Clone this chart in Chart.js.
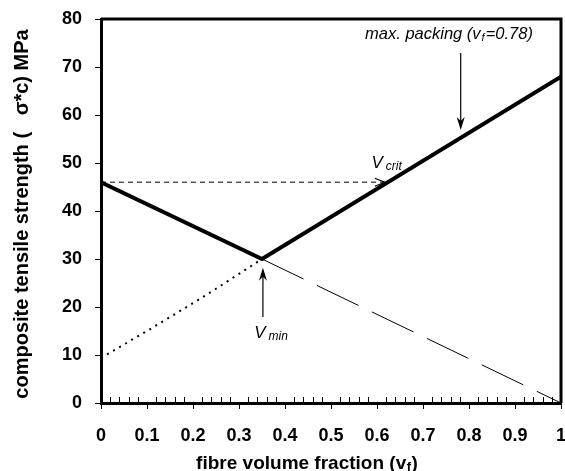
<!DOCTYPE html>
<html>
<head>
<meta charset="utf-8">
<script src="https://cdn.jsdelivr.net/npm/chart.js@4/dist/chart.umd.min.js"></script>
<style>
  html, body { margin: 0; padding: 0; background: #fff; }
  canvas { display: block; }
</style>
</head>
<body>
<canvas id="chart" width="565" height="471"></canvas>
<script>
// composite strength vs fibre volume fraction
const strengthX = [0, 0.35, 1];
const strengthY = [46, 30, 68];

const matrixX = [0.35, 1];
const matrixY = [30, 0];

const fibreX = [0, 0.05, 0.1, 0.15, 0.2, 0.25, 0.3, 0.35];
const fibreY = [9.4, 12.2, 15, 17.9, 20.8, 23.8, 26.9, 30];

const critX = [0, 0.617];
const critY = [46, 46];

// annotation anchors (data units)
const vminArrow = [0.352, 17.9, 0.352, 28.2];
const packArrow = [0.782, 72.9, 0.782, 56.9];
const vminLabel = [0.333, 13.5];
const vcritLabel = [0.588, 49];
const packLabel = [0.574, 75.8];

const FONT = '"Liberation Sans", Arial, sans-serif';

function pts(xs, ys) {
    return xs.map((x, i) => ({ x: x, y: ys[i] }));
}

// frame, minor ticks, arrows and labels
const decor = {
    id: 'decor',
    afterDraw(chart) {
        const ctx = chart.ctx;
        const xs = chart.scales.x;
        const ys = chart.scales.y;
        const a = chart.chartArea;
        const px = v => xs.getPixelForValue(v);
        const py = v => ys.getPixelForValue(v);

        ctx.save();
        ctx.strokeStyle = '#000';
        ctx.fillStyle = '#000';

        // top and right of the frame
        ctx.lineWidth = 3;
        ctx.beginPath();
        ctx.moveTo(a.left, a.top);
        ctx.lineTo(a.right, a.top);
        ctx.lineTo(a.right, a.bottom);
        ctx.stroke();

        // minor ticks pointing inwards
        ctx.lineWidth = 1;
        ctx.beginPath();
        for (let i = 1; i < 50; i++) {
            if (i % 5 === 0) continue;
            const x = Math.round(px(i / 50)) + 0.5;
            ctx.moveTo(x, a.bottom);
            ctx.lineTo(x, a.bottom - 6);
        }
        ctx.stroke();

        // vertical arrows
        function arrowUpDown(v) {
            const x = px(v[0]), y0 = py(v[1]), y1 = py(v[3]);
            const dir = y1 < y0 ? -1 : 1;
            ctx.lineWidth = 1.2;
            ctx.beginPath();
            ctx.moveTo(x, y0);
            ctx.lineTo(x, y1 - dir * 6);
            ctx.stroke();
            ctx.beginPath();
            ctx.moveTo(x, y1);
            ctx.lineTo(x - 4, y1 - dir * 13);
            ctx.lineTo(x, y1 - dir * 9);
            ctx.lineTo(x + 4, y1 - dir * 13);
            ctx.closePath();
            ctx.fill();
        }
        arrowUpDown(vminArrow);
        arrowUpDown(packArrow);

        // head of the V crit arrow
        const hx = px(critX[1]), hy = py(critY[1]);
        ctx.lineWidth = 1.2;
        ctx.beginPath();
        ctx.moveTo(hx - 10, hy - 4);
        ctx.lineTo(hx, hy);
        ctx.lineTo(hx - 10, hy + 4);
        ctx.stroke();

        // labels
        ctx.textBaseline = 'alphabetic';
        ctx.textAlign = 'left';
        function vLabel(pos, sub) {
            let x = px(pos[0]), y = py(pos[1]);
            ctx.font = 'italic 17px ' + FONT;
            ctx.fillText('V', x, y);
            x += ctx.measureText('V').width + 3;
            ctx.font = 'italic 12px ' + FONT;
            ctx.fillText(sub, x, y + 2);
        }
        vLabel(vminLabel, 'min');
        vLabel(vcritLabel, 'crit');

        let x = px(packLabel[0]);
        const y = py(packLabel[1]);
        ctx.font = 'italic 16.5px ' + FONT;
        ctx.fillText('max. packing (v', x, y);
        x += ctx.measureText('max. packing (v').width;
        ctx.font = 'italic 11px ' + FONT;
        ctx.fillText('f', x + 1, y + 2);
        x += ctx.measureText('f').width + 2;
        ctx.font = 'italic 16.5px ' + FONT;
        ctx.fillText('=0.78)', x, y);

        // axis titles
        const t1 = 'fibre volume fraction (v';
        const t2 = ')';
        ctx.font = 'bold 13px ' + FONT;
        const wf = ctx.measureText('f').width;
        ctx.font = 'bold 19px ' + FONT;
        const w1 = ctx.measureText(t1).width;
        const w2 = ctx.measureText(t2).width;
        let tx = 307 - (w1 + wf + 1 + w2) / 2;
        const ty = 469;
        ctx.fillText(t1, tx, ty);
        tx += w1;
        ctx.font = 'bold 13px ' + FONT;
        ctx.fillText('f', tx + 0.5, ty + 2);
        tx += wf + 1;
        ctx.font = 'bold 19px ' + FONT;
        ctx.fillText(t2, tx, ty);

        ctx.font = 'bold 20px ' + FONT;
        ctx.translate(22, 214);
        ctx.rotate(-Math.PI / 2);
        ctx.textAlign = 'center';
        ctx.textBaseline = 'middle';
        ctx.fillText('composite tensile strength (   \u03c3*c) MPa', 0, 0);
        ctx.restore();
    }
};

new Chart(document.getElementById('chart'), {
    type: 'scatter',
    data: {
        datasets: [
            {
                data: pts(strengthX, strengthY),
                showLine: true,
                borderColor: '#000',
                borderWidth: 4,
                borderJoinStyle: 'miter',
                pointRadius: 0
            },
            {
                data: pts(matrixX, matrixY),
                showLine: true,
                borderColor: '#000',
                borderWidth: 1,
                borderDash: [46, 15],
                pointRadius: 0
            },
            {
                data: pts(fibreX, fibreY),
                showLine: true,
                borderColor: '#000',
                borderWidth: 2,
                borderDash: [2, 5],
                pointRadius: 0
            },
            {
                data: pts(critX, critY),
                showLine: true,
                borderColor: '#000',
                borderWidth: 1,
                borderDash: [5, 4],
                pointRadius: 0
            }
        ]
    },
    options: {
        responsive: false,
        animation: false,
        layout: { padding: { left: 0, top: 19, right: 4, bottom: 0 } },
        plugins: {
            legend: { display: false },
            tooltip: { enabled: false }
        },
        scales: {
            x: {
                type: 'linear',
                min: 0,
                max: 1,
                afterFit: s => { s.height = 68; s.paddingLeft = 0; s.paddingRight = 0; },
                border: { color: '#000', width: 3 },
                grid: { drawOnChartArea: false, color: '#000', tickLength: 6, tickWidth: 1 },
                ticks: {
                    stepSize: 0.1,
                    padding: 16,
                    color: '#000',
                    font: { family: FONT, size: 18, weight: 'bold' },
                    maxRotation: 0,
                    callback: v => String(+v.toFixed(1))
                }
            },
            y: {
                min: 0,
                max: 80,
                afterFit: s => { s.width = 101; s.paddingTop = 0; s.paddingBottom = 0; },
                border: { color: '#000', width: 3 },
                grid: { drawOnChartArea: false, color: '#000', tickLength: 6, tickWidth: 1 },
                ticks: {
                    stepSize: 10,
                    padding: 13,
                    color: '#000',
                    font: { family: FONT, size: 18, weight: 'bold' }
                }
            }
        }
    },
    plugins: [decor]
});
</script>
</body>
</html>
